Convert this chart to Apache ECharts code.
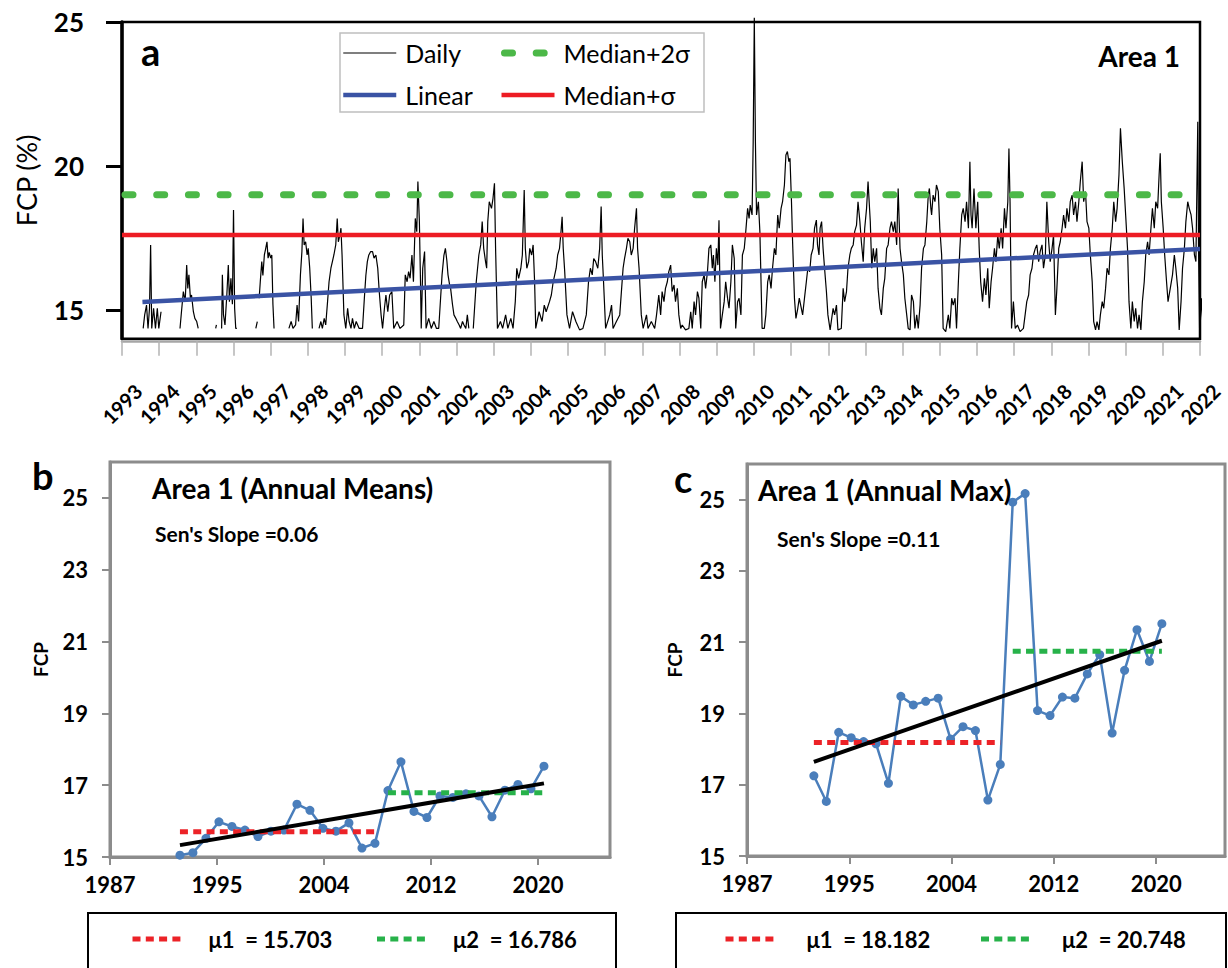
<!DOCTYPE html>
<html><head><meta charset="utf-8">
<script src="https://cdn.jsdelivr.net/npm/echarts@6/dist/echarts.min.js"></script>
<style>html,body{margin:0;padding:0;background:#fff}#c{width:1228px;height:968px}</style>
</head><body><div id="c"></div>
<script>
// ---------- Panel a : daily FCP (%) ----------
const dailyData = [
[1993.57,14.36],[1993.61,14.83],[1993.66,15.17],[1993.70,14.36],[1993.74,15.06],[1993.77,17.26],[1993.80,14.36],[1993.85,15.06],[1993.90,14.36],[1993.95,15.06],[1993.99,14.36],[1994.05,14.94],[1994.30,null],
[1994.56,14.36],[1994.60,14.94],[1994.65,15.64],[1994.70,15.29],[1994.74,16.56],[1994.77,15.75],[1994.80,16.22],[1994.84,15.41],[1994.87,15.52],[1994.92,14.94],[1994.96,14.71],[1995.01,14.60],[1995.05,14.36],[1995.30,null],
[1995.52,14.36],[1995.54,14.48],[1995.60,null],
[1995.68,14.36],[1995.70,16.22],[1995.73,14.83],[1995.77,14.48],[1995.82,15.52],[1995.86,16.56],[1995.89,15.29],[1995.93,16.10],[1995.97,15.20],[1996.00,18.47],[1996.03,15.06],[1996.06,14.36],[1996.09,14.36],[1996.30,null],
[1996.60,14.36],[1996.64,14.60],[1996.66,null],
[1996.69,15.41],[1996.72,15.98],[1996.76,16.68],[1996.79,16.20],[1996.83,16.91],[1996.86,17.10],[1996.90,17.37],[1996.93,16.80],[1996.96,17.00],[1997.00,16.80],[1997.03,16.91],[1997.06,15.20],[1997.09,14.36],[1997.30,null],
[1997.49,14.36],[1997.55,14.60],[1997.60,14.36],[1997.67,14.48],[1997.71,15.17],[1997.75,14.60],[1997.80,16.22],[1997.84,17.03],[1997.87,18.18],[1997.90,17.26],[1997.94,17.37],[1997.98,16.91],[1998.01,17.14],[1998.05,16.45],[1998.09,15.41],[1998.12,14.36],[1998.20,null],
[1998.30,14.36],[1998.35,14.60],[1998.39,14.36],[1998.44,14.71],[1998.48,14.48],[1998.53,15.29],[1998.57,15.98],[1998.62,16.45],[1998.66,16.68],[1998.70,16.91],[1998.75,17.26],[1998.79,18.18],[1998.82,17.37],[1998.86,17.60],[1998.89,17.84],[1998.92,16.91],[1998.97,14.83],[1999.02,14.36],[1999.07,15.06],[1999.11,14.60],[1999.16,14.36],[1999.20,14.71],[1999.25,14.36],[1999.30,14.60],[1999.38,14.36],[1999.47,14.36],[1999.52,15.41],[1999.56,16.20],[1999.60,16.68],[1999.64,16.91],[1999.69,17.03],[1999.74,17.03],[1999.78,16.80],[1999.83,16.91],[1999.88,16.45],[1999.92,15.64],[1999.97,14.83],[2000.01,14.36],[2000.06,15.06],[2000.10,15.52],[2000.15,14.94],
[2000.20,15.52],[2000.26,15.64],[2000.31,14.36],[2000.40,14.60],[2000.48,14.36],[2000.58,14.48],[2000.62,16.22],[2000.67,15.98],[2000.71,16.33],[2000.75,16.10],[2000.80,16.91],[2000.84,15.98],[2000.89,18.18],[2000.93,17.72],[2000.96,19.46],[2001.00,18.07],[2001.03,15.98],[2001.05,14.36],[2001.09,16.45],[2001.14,17.03],[2001.18,14.36],[2001.25,14.71],[2001.32,14.36],[2001.39,14.60],[2001.46,14.36],[2001.52,14.36],[2001.57,15.40],[2001.61,16.22],[2001.66,16.90],[2001.70,17.14],[2001.74,16.70],[2001.77,16.22],[2001.81,15.90],[2001.84,15.75],[2001.89,15.20],[2001.93,14.83],[2001.98,14.71],[2002.02,14.60],[2002.07,14.48],[2002.11,14.36],[2002.16,14.60],[2002.20,14.48],[2002.25,14.36],[2002.29,14.83],[2002.33,14.36],[2002.40,null],
[2002.45,14.36],[2002.53,15.98],[2002.60,16.91],[2002.65,17.26],[2002.69,18.07],[2002.73,17.14],[2002.78,16.68],[2002.81,16.45],[2002.84,18.07],[2002.88,18.76],[2002.94,18.53],[2002.98,18.87],[2003.02,19.40],[2003.05,17.14],[2003.10,14.36],[2003.18,14.60],[2003.24,14.36],[2003.32,14.83],[2003.38,14.36],[2003.46,14.71],[2003.52,14.36],[2003.58,15.29],[2003.62,16.45],[2003.67,16.10],[2003.73,16.45],[2003.77,16.91],[2003.82,19.17],[2003.85,17.14],[2003.89,16.45],[2003.94,16.68],[2003.97,17.14],[2004.02,16.91],[2004.06,17.26],[2004.10,15.98],[2004.13,14.36],[2004.22,14.94],[2004.30,14.60],[2004.36,15.17],[2004.41,14.94],[2004.50,15.29],[2004.55,15.52],[2004.60,15.98],[2004.68,16.45],[2004.72,16.91],[2004.77,17.14],[2004.81,17.72],[2004.84,18.24],[2004.87,17.14],[2004.91,16.33],[2004.97,14.83],[2005.04,14.36],[2005.12,14.94],[2005.21,14.60],[2005.31,14.31],[2005.40,14.36],[2005.49,14.83],[2005.55,15.98],[2005.60,16.45],[2005.65,16.22],[2005.69,16.79],[2005.74,16.68],[2005.80,16.45],[2005.85,17.14],[2005.89,18.59],[2005.92,16.91],[2005.95,16.10],[2006.01,14.36],[2006.12,14.83],[2006.17,15.17],[2006.21,14.36],[2006.30,14.60],[2006.39,14.83],[2006.48,16.45],[2006.52,16.79],[2006.57,17.14],[2006.61,17.49],[2006.66,17.37],[2006.70,16.91],[2006.75,17.14],[2006.79,17.84],[2006.84,18.53],[2006.87,17.14],[2006.91,16.45],[2006.97,14.83],[2007.02,14.36],[2007.11,14.83],[2007.15,14.36],[2007.24,14.60],[2007.33,14.36],[2007.38,14.83],[2007.42,15.29],
[2007.44,15.52],[2007.49,14.83],[2007.53,15.64],[2007.58,15.29],[2007.62,15.75],[2007.67,15.98],[2007.71,16.33],[2007.76,16.56],[2007.80,15.64],[2007.85,15.87],[2007.89,15.29],[2007.94,15.75],[2007.98,14.83],[2008.03,14.36],[2008.07,14.48],[2008.16,14.31],[2008.25,14.36],[2008.30,14.94],[2008.34,14.36],[2008.39,15.29],[2008.43,14.83],[2008.48,15.64],[2008.52,15.41],[2008.57,14.36],[2008.61,15.98],[2008.66,16.22],[2008.70,15.75],[2008.75,16.33],[2008.79,17.14],[2008.84,17.26],[2008.88,16.45],[2008.91,16.91],[2008.95,15.98],[2008.99,17.14],[2009.03,16.56],[2009.06,18.12],[2009.10,14.36],[2009.15,14.83],[2009.20,15.29],[2009.24,15.98],[2009.29,15.41],[2009.33,15.06],[2009.38,15.98],[2009.42,17.26],[2009.47,16.79],[2009.51,14.36],[2009.56,15.29],[2009.60,15.41],[2009.65,14.83],[2009.69,16.91],[2009.74,17.14],[2009.78,17.72],[2009.83,18.53],[2009.87,18.18],[2009.90,18.64],[2009.95,18.30],[2009.98,20.84],[2010.01,25.15],[2010.04,20.84],[2010.07,18.30],[2010.12,18.76],[2010.16,17.72],[2010.22,14.36],[2010.28,14.36],[2010.32,14.83],[2010.37,15.98],[2010.41,16.22],[2010.46,15.75],[2010.50,16.45],[2010.55,17.14],[2010.59,16.91],[2010.64,18.30],[2010.68,17.84],[2010.73,18.53],[2010.77,18.76],[2010.82,19.34],[2010.86,20.38],[2010.90,20.50],[2010.94,20.15],[2010.97,20.27],[2011.01,18.76],[2011.04,17.37],[2011.09,15.41],[2011.13,14.71],[2011.18,15.06],[2011.22,15.41],[2011.31,14.83],[2011.36,15.41],[2011.41,15.98],[2011.45,16.45],[2011.50,16.33],[2011.54,16.91],[2011.59,17.14],[2011.63,17.84],[2011.68,18.12],[2011.71,17.26],[2011.75,16.91],[2011.78,17.84],[2011.82,18.07],[2011.86,17.14],[2011.90,16.45],[2011.95,15.64],[2011.99,14.83],[2012.05,14.31],[2012.13,15.06],[2012.17,14.83],[2012.22,15.17],[2012.26,14.31],[2012.35,14.36],[2012.40,15.75],[2012.44,15.29],[2012.49,15.64],[2012.53,16.45],[2012.58,16.91],[2012.62,17.14],[2012.67,17.26],[2012.71,17.72],[2012.76,17.95],[2012.80,18.76],[2012.85,18.07],[2012.89,17.37],[2012.94,16.68],[2012.98,17.84],[2013.03,18.53],[2013.07,19.46],[2013.10,18.76],[2013.13,18.07],[2013.17,16.45],[2013.21,17.14],[2013.25,16.68],[2013.30,17.14],[2013.34,15.75],[2013.39,15.06],[2013.43,14.83],[2013.48,15.75],[2013.52,16.10],[2013.57,17.14],[2013.61,17.26],[2013.66,17.84],[2013.70,18.07],[2013.75,17.72],[2013.79,18.07],[2013.84,17.26],[2013.88,19.22],[2013.93,17.14],[2013.97,16.68],[2014.02,16.22],[2014.06,15.41],[2014.11,14.83],[2014.15,14.36],[2014.20,14.31],[2014.24,15.52],[2014.29,15.29],[2014.33,14.36],[2014.38,14.83],[2014.42,14.36],[2014.47,15.17],[2014.51,16.45],[2014.56,17.14],[2014.60,17.26],[2014.65,18.07],[2014.69,18.99],[2014.72,19.22],[2014.76,18.53],
[2014.78,18.30],[2014.82,18.99],[2014.87,18.76],[2014.91,19.34],[2014.96,19.11],[2015.00,17.84],[2015.05,16.91],[2015.09,14.36],[2015.16,14.25],[2015.23,14.83],[2015.27,14.36],[2015.32,15.41],[2015.36,15.17],[2015.41,15.41],[2015.45,14.36],[2015.50,15.98],[2015.54,17.14],[2015.59,18.30],[2015.63,18.53],[2015.68,18.07],[2015.72,18.76],[2015.77,17.84],[2015.81,20.15],[2015.84,18.30],[2015.87,17.84],[2015.92,19.22],[2015.97,17.84],[2016.02,18.76],[2016.06,17.14],[2016.10,15.98],[2016.15,15.29],[2016.20,16.10],[2016.24,15.52],[2016.29,16.45],[2016.33,15.06],[2016.38,15.98],[2016.42,16.45],[2016.47,17.14],[2016.51,16.68],[2016.56,17.60],[2016.60,17.14],[2016.65,17.84],[2016.69,17.14],[2016.74,18.53],[2016.78,17.84],[2016.83,18.76],[2016.86,20.61],[2016.89,18.76],[2016.93,14.36],[2016.98,15.29],[2017.03,14.36],[2017.09,14.48],[2017.16,14.25],[2017.25,14.36],[2017.34,15.29],[2017.39,15.52],[2017.43,16.22],[2017.48,16.45],[2017.52,16.91],[2017.57,17.14],[2017.61,17.26],[2017.66,16.68],[2017.70,17.03],[2017.75,17.26],[2017.79,16.45],[2017.84,16.91],[2017.88,18.76],[2017.93,17.37],[2017.97,16.68],[2018.02,17.14],[2018.06,17.60],[2018.11,14.83],[2018.15,15.75],[2018.20,17.14],[2018.24,17.37],[2018.29,17.84],[2018.33,18.30],[2018.38,17.84],[2018.42,18.53],[2018.47,18.07],[2018.51,18.76],[2018.56,18.99],[2018.60,18.30],[2018.65,18.76],[2018.69,18.07],[2018.74,18.76],[2018.78,19.46],[2018.83,20.15],[2018.87,18.76],[2018.92,19.11],[2018.96,18.07],[2019.01,17.84],[2019.05,16.91],[2019.10,15.98],[2019.14,14.60],[2019.19,14.31],[2019.23,14.60],[2019.28,14.31],[2019.32,14.83],[2019.37,15.29],[2019.41,15.06],[2019.46,15.75],[2019.50,16.45],[2019.55,16.22],[2019.59,17.14],[2019.64,17.84],[2019.68,18.76],[2019.73,18.07],[2019.77,18.53],[2019.82,19.69],[2019.86,21.31],[2019.91,20.15],[2019.96,19.22],[2020.00,18.30],[2020.05,17.14],[2020.09,15.29],[2020.14,14.36],[2020.18,15.29],[2020.23,14.60],[2020.27,15.06],[2020.32,14.36],[2020.36,14.83],[2020.41,14.31],[2020.45,15.29],[2020.50,15.98],[2020.54,16.91],[2020.59,17.37],[2020.63,16.91],[2020.68,17.84],[2020.72,18.53],[2020.77,17.84],[2020.81,18.76],[2020.86,18.53],[2020.90,19.69],[2020.93,20.44],[2020.96,18.76],[2021.01,17.84],[2021.05,16.91],[2021.10,15.98],[2021.14,15.29],[2021.20,15.75],[2021.26,16.22],[2021.31,16.91],[2021.35,16.45],[2021.40,15.75],[2021.44,14.31],[2021.49,15.29],[2021.53,16.45],[2021.58,17.14],[2021.62,18.07],[2021.67,18.76],[2021.71,18.53],[2021.76,18.30],[2021.80,17.84],[2021.85,16.91],[2021.89,16.68],[2021.94,21.54],[2021.96,17.14],[2021.99,14.25],[2022.04,15.41],[2022.08,14.36]
];
const linearTrend = [[1993.55, 15.28], [2022.0, 17.12]];
const medianPlusSigma = 17.6;
const medianPlus2Sigma = 19.0;
const dailySpan = [1993, 2022];
const topYTicks = [15, 20, 25];

// ---------- Panels b, c : annual series ----------
const years = [1993,1994,1995,1996,1997,1998,1999,2000,2001,2002,2003,2004,2005,2006,2007,2008,2009,2010,2011,2012,2013,2014,2015,2016,2017,2018,2019,2020,2021];
const annualMeans = [15.05,15.12,15.52,15.98,15.85,15.75,15.57,15.72,15.75,16.47,16.30,15.80,15.72,15.95,15.25,15.38,16.85,17.65,16.27,16.10,16.70,16.66,16.76,16.70,16.12,16.86,17.02,16.90,17.53];
const annualMax = [17.25,16.53,18.47,18.32,18.21,18.15,17.04,19.48,19.24,19.34,19.43,18.28,18.63,18.52,16.57,17.57,24.93,25.17,19.08,18.94,19.46,19.43,20.11,20.65,18.45,20.21,21.35,20.46,21.52];
const periodBefore = [1993, 2008];
const periodAfter = [2009, 2021];
const meansMu = [15.703, 16.786];
const maxMu = [18.182, 20.748];
const meansTrendEnds = [15.33, 17.05];
const maxTrendEnds = [17.64, 21.04];
const bottomYTicks = [15, 17, 19, 21, 23, 25];
const bottomXTickValues = [1987.62, 1995.85, 2004.08, 2012.31, 2020.54];
const bottomXTickLabels = ['1987', '1995', '2004', '2012', '2020'];

const F = 'Lato, "Open Sans", sans-serif';
const GRAY = '#8c8c8c';

function bottomX(gi) {
  return {
    type: 'value', gridIndex: gi, min: 1987.62, max: 2026.08,
    axisLine: { show: true, onZero: false, lineStyle: { color: GRAY, width: 3 } },
    axisTick: { show: true, customValues: bottomXTickValues, length: 8, lineStyle: { color: GRAY, width: 2 } },
    axisLabel: { show: true, customValues: bottomXTickValues, margin: 16, color: '#000', fontFamily: F, fontWeight: 'bold', fontSize: 22,
      formatter: function (v) { const i = bottomXTickValues.findIndex(t => Math.abs(t - v) < 0.01); return i >= 0 ? bottomXTickLabels[i] : ''; } },
    splitLine: { show: false }
  };
}
function bottomY(gi, gap) {
  return {
    type: 'value', gridIndex: gi, min: 15, max: 26,
    name: 'FCP', nameLocation: 'middle', nameRotate: 90, nameGap: gap,
    nameTextStyle: { fontFamily: F, fontWeight: 'bold', fontSize: 19, color: '#000' },
    axisLine: { show: true, onZero: false, lineStyle: { color: GRAY, width: 3 } },
    axisTick: { show: true, customValues: bottomYTicks, length: 8, lineStyle: { color: GRAY, width: 2 } },
    axisLabel: { show: true, customValues: bottomYTicks, margin: 22, color: '#000', fontFamily: F, fontWeight: 'bold', fontSize: 22 },
    splitLine: { show: false }
  };
}
function pts(ys, vals) { return ys.map((y, i) => [y, vals[i]]); }
function annualSeries(name, gi, vals) {
  return { name: name, type: 'line', xAxisIndex: gi, yAxisIndex: gi, data: pts(years, vals),
    symbol: 'circle', symbolSize: 9, color: '#4a7ebb', itemStyle: { color: '#4a7ebb' },
    lineStyle: { color: '#4a7ebb', width: 2.5 }, z: 2 };
}
function muSeries(name, gi, period, val, color) {
  return { name: name, type: 'line', xAxisIndex: gi, yAxisIndex: gi, data: [[period[0], val], [period[1], val]],
    symbol: 'none', color: color, lineStyle: { color: color, width: 5, type: [8, 5.3], cap: 'butt' }, z: 3 };
}
function trendSeries(name, gi, ends) {
  return { name: name, type: 'line', xAxisIndex: gi, yAxisIndex: gi, data: [[years[0], ends[0]], [years[years.length - 1], ends[1]]],
    symbol: 'none', color: '#000', lineStyle: { color: '#000', width: 4 }, z: 4 };
}
const muB1 = 'μ1  = ' + meansMu[0].toFixed(3), muB2 = 'μ2  = ' + meansMu[1].toFixed(3);
const muC1 = 'μ1  = ' + maxMu[0].toFixed(3), muC2 = 'μ2  = ' + maxMu[1].toFixed(3);
const RED = '#ec2227', GREEN = '#27b24a';

function txt(x, y, text, size, weight, align) {
  return { type: 'text', x: x, y: y, z: 50, silent: true,
    style: { text: text, x: 0, y: 0, fill: '#000', fontFamily: F, fontSize: size, fontWeight: weight,
      align: align || 'left', textAlign: align || 'left', verticalAlign: 'middle', textVerticalAlign: 'middle' } };
}
function box(x, y, w, h, stroke, lw) {
  return { type: 'rect', z: 40, silent: true, shape: { x: x, y: y, width: w, height: h },
    style: { fill: 'none', stroke: stroke, lineWidth: lw } };
}
function topLegend(names, left) {
  return { data: names, left: left, top: 37.5, orient: 'vertical', padding: 0, itemGap: 11, itemWidth: 53, itemHeight: 14,
    selectedMode: false, lineStyle: { width: 'inherit' }, itemStyle: { opacity: 0, borderWidth: 0 },
    textStyle: { fontFamily: F, fontSize: 25, color: '#000', lineHeight: 31, padding: [0, 0, 0, 4] } };
}
function muLegend(names, left, iw, textW, pad) {
  return { data: names, left: left, top: 926, orient: 'horizontal', padding: 0, itemGap: 20, itemWidth: iw, itemHeight: 10,
    selectedMode: false, lineStyle: { width: 'inherit' }, itemStyle: { opacity: 0, borderWidth: 0 },
    textStyle: { fontFamily: F, fontSize: 22, fontWeight: 'bold', color: '#000', lineHeight: 26, width: textW, padding: [0, 0, 0, pad] } };
}

const option = {
  animation: false,
  backgroundColor: '#fff',
  grid: [
    { left: 122, top: 22, width: 1078, height: 316.8, show: true, borderColor: '#000', borderWidth: 2.5, backgroundColor: 'transparent' },
    { left: 110, top: 462, width: 500, height: 395, show: true, borderColor: GRAY, borderWidth: 3 },
    { left: 747, top: 464, width: 478, height: 392, show: true, borderColor: GRAY, borderWidth: 3 }
  ],
  xAxis: [
    { type: 'value', gridIndex: 0, min: dailySpan[0], max: dailySpan[1], interval: 1, offset: 2,
      axisLine: { show: true, onZero: false, lineStyle: { color: '#a6a6a6', width: 2.5 } },
      axisTick: { show: true, length: 15, lineStyle: { color: '#b3b3b3', width: 1.5 } },
      axisLabel: { show: true, rotate: 45, align: 'center', verticalAlign: 'middle', margin: 63, color: '#000',
        fontFamily: F, fontWeight: 'bold', fontSize: 20, formatter: v => String(Math.round(v)) },
      splitLine: { show: false } },
    bottomX(1), bottomX(2)
  ],
  yAxis: [
    { type: 'value', gridIndex: 0, min: 14, max: 25,
      name: 'FCP (%)', nameLocation: 'middle', nameRotate: 90, nameGap: 82,
      nameTextStyle: { fontFamily: F, fontSize: 27, color: '#000' },
      axisLine: { show: true, onZero: false, lineStyle: { color: '#000', width: 3.5 } },
      axisTick: { show: true, customValues: topYTicks, length: 16, lineStyle: { color: '#000', width: 3 } },
      axisLabel: { show: true, customValues: topYTicks, margin: 38, color: '#000', fontFamily: F, fontWeight: 'bold', fontSize: 26 },
      splitLine: { show: false } },
    bottomY(1, 60), bottomY(2, 63)
  ],
  legend: [
    topLegend(['Daily', 'Linear'], 341),
    topLegend(['Median+2σ', 'Median+σ'], 498),
    muLegend([muB1, muB2], 130, 48, 146, 23),
    muLegend([muC1, muC2], 723, 51, 152, 25)
  ],
  series: [
    { name: 'Daily', type: 'line', xAxisIndex: 0, yAxisIndex: 0, data: dailyData, symbol: 'none', connectNulls: false, clip: false,
      color: '#000', lineStyle: { color: '#000', width: 1.2 }, z: 2 },
    { name: 'Linear', type: 'line', xAxisIndex: 0, yAxisIndex: 0, data: linearTrend, symbol: 'none',
      color: '#3a53a4', lineStyle: { color: '#3a53a4', width: 4.5 }, z: 3 },
    { name: 'Median+σ', type: 'line', xAxisIndex: 0, yAxisIndex: 0, data: [[dailySpan[0], medianPlusSigma], [dailySpan[1], medianPlusSigma]], symbol: 'none',
      color: '#ed1c24', lineStyle: { color: '#ed1c24', width: 4.5 }, z: 4 },
    { name: 'Median+2σ', type: 'line', xAxisIndex: 0, yAxisIndex: 0, data: [[dailySpan[0], medianPlus2Sigma], [dailySpan[1], medianPlus2Sigma]], symbol: 'none',
      color: '#4cb848', lineStyle: { color: '#4cb848', width: 7, type: [8, 23.7], dashOffset: -3.5, cap: 'round' }, z: 5 },

    annualSeries('Annual Means', 1, annualMeans),
    muSeries(muB1, 1, periodBefore, meansMu[0], RED),
    muSeries(muB2, 1, periodAfter, meansMu[1], GREEN),
    trendSeries('Means trend', 1, meansTrendEnds),

    annualSeries('Annual Max', 2, annualMax),
    muSeries(muC1, 2, periodBefore, maxMu[0], RED),
    muSeries(muC2, 2, periodAfter, maxMu[1], GREEN),
    trendSeries('Max trend', 2, maxTrendEnds)
  ],
  graphic: [
    box(340, 33, 364, 79, '#bfbfbf', 1.5),
    txt(141, 51, 'a', 38, 'bold'),
    txt(1180, 56, 'Area 1', 28, 'bold', 'right'),
    txt(32, 475, 'b', 38, 'bold'),
    txt(152, 488, 'Area 1 (Annual Means)', 28, 'bold'),
    txt(155, 533, "Sen's Slope =0.06", 21, 'bold'),
    txt(674, 478, 'c', 38, 'bold'),
    txt(758, 490, 'Area 1 (Annual Max)', 28, 'bold'),
    txt(777, 538, "Sen's Slope =0.11", 21, 'bold'),
    box(88, 913, 528, 70, '#000', 2),
    box(676, 913, 550, 70, '#000', 2)
  ]
};
const chart = echarts.init(document.getElementById('c'), null, { renderer: 'svg' });
chart.setOption(option);
</script>
</body></html>
